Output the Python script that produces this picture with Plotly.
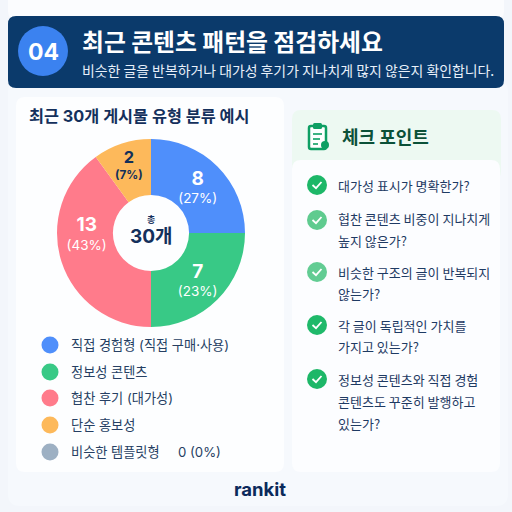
import plotly.graph_objects as go

categories = ["직접 경험형 (직접 구매·사용)", "정보성 콘텐츠", "협찬 후기 (대가성)", "단순 홍보성", "비슷한 템플릿형"]
counts = [8, 7, 13, 2, 0]
shares = [27, 23, 43, 7, 0]
# The reference's slices are not in proportion to its printed counts; these are the drawn angles.
drawn_degrees = [90, 90, 144, 36]
colors = ["#4F8FFB", "#38C986", "#FF7B8B", "#FDB95B", "#9DB0C3"]
label_colors = ["white", "white", "white", "#12305A", "#12305A"]
checks = [
    (["대가성 표시가 명확한가?"], "#1DB768"),
    (["협찬 콘텐츠 비중이 지나치게", "높지 않은가?"], "#5FCB8F"),
    (["비슷한 구조의 글이 반복되지", "않는가?"], "#62CC93"),
    (["각 글이 독립적인 가치를", "가지고 있는가?"], "#1FB96A"),
    (["정보성 콘텐츠와 직접 경험", "콘텐츠도 꾸준히 발행하고", "있는가?"], "#1DB768"),
]

S = 512.0
FONT = "Inter, 'Noto Sans CJK KR', sans-serif"
KR = "'Noto Sans CJK KR', sans-serif"

def X(p): return p / S
def Y(p): return 1 - p / S

def rrect(x0, y0, x1, y1, r, fill, line=None):
    a, b, c, d = X(x0), Y(y0), X(x1), Y(y1)
    rx, ry = r / S, r / S
    path = (f"M{a+rx},{b} L{c-rx},{b} Q{c},{b} {c},{b-ry} L{c},{d+ry} Q{c},{d} {c-rx},{d} "
            f"L{a+rx},{d} Q{a},{d} {a},{d+ry} L{a},{b-ry} Q{a},{b} {a+rx},{b} Z")
    return dict(type="path", xref="paper", yref="paper", path=path, fillcolor=fill,
                line=dict(color=line or fill, width=1 if line else 0), layer="below")

def circle(cx, cy, r, fill, layer="above"):
    return dict(type="circle", xref="paper", yref="paper", x0=X(cx - r), x1=X(cx + r),
                y0=Y(cy + r), y1=Y(cy - r), fillcolor=fill, line=dict(width=0), layer=layer)

def polyline(points, color, width):
    path = "M" + " L".join(f"{X(x)},{Y(y)}" for x, y in points)
    return dict(type="path", xref="paper", yref="paper", path=path,
                line=dict(color=color, width=width), layer="above")

def text(x, y, s, size, color, bold=False, anchor="left", family=FONT):
    return dict(xref="paper", yref="paper", x=X(x), y=Y(y), text=f"<b>{s}</b>" if bold else s,
                showarrow=False, xanchor=anchor, yanchor="middle",
                font=dict(size=size, color=color, family=family))

shapes, notes = [], []

# Background cards
shapes.append(rrect(8, -20, 504, 21, 10, "#FBFCFE"))
shapes.append(rrect(8, 80, 508, 506, 12, "#F6F9FD"))
shapes.append(rrect(8, 16, 504, 88, 8, "#0B3A6B"))
shapes.append(rrect(16, 97, 284, 472, 9, "#FDFEFF"))
shapes.append(rrect(292, 110, 501, 180, 9, "#EDF9F2"))
shapes.append(rrect(292, 160, 500, 472, 9, "#FCFDFF"))

# Header
shapes.append(circle(43, 51, 25, "#3B82F0"))
notes.append(text(43, 52, "04", 23, "white", True, "center"))
notes.append(text(79.5, 40, "최근 콘텐츠 패턴을 점검하세요", 23.8, "white", True, family=KR))
notes.append(text(80, 70, "비슷한 글을 반복하거나 대가성 후기가 지나치게 많지 않은지 확인합니다.", 13.9, "#E8F0FA", family=KR))

# Left card
notes.append(text(27, 116, "최근 30개 게시물 유형 분류 예시", 16.3, "#14305C", True))
notes.append(text(151, 219, "총", 9, "#14305C", True, "center"))
notes.append(text(151, 236, "30개", 19, "#14305C", True, "center"))

legend_y = [345, 372, 398, 425, 452]
for i, (name, c, y) in enumerate(zip(categories, colors, legend_y)):
    shapes.append(circle(50, y, 8.5, c))
    notes.append(text(69, y, name, 13.2, "#263F63"))
notes.append(text(176, legend_y[4], f"{counts[4]} ({shares[4]}%)", 13.2, "#263F63"))

# Right card header with clipboard icon
G = "#0E9F63"
shapes.append(rrect(309, 126, 326, 149, 2, "white", G))
shapes[-1]["layer"] = "above"
shapes[-1]["line"]["width"] = 2.5
shapes.append(rrect(313, 123, 322, 129, 1.5, G))
shapes[-1]["layer"] = "above"
for yy, x1 in ((134, 322), (139, 320), (144, 318)):
    shapes.append(polyline([(313, yy), (x1, yy)], G, 1.6))
shapes.append(circle(325, 145, 4, G))
notes.append(text(340, 136, "체크 포인트", 18, "#0B5138", True, family=KR))

# Checklist
row_y = [[185], [218, 240], [272, 293], [325, 346], [379, 401, 423]]
icon_y = [185, 220, 272, 325, 379]
for (lines, c), ys, iy in zip(checks, row_y, icon_y):
    shapes.append(circle(317, iy, 10, c))
    shapes.append(polyline([(312.5, iy), (316, iy + 3.2), (321.5, iy - 3)], "white", 1.8))
    for line, yy in zip(lines, ys):
        notes.append(text(336, yy, line, 13, "#1E3A63", family=KR))

notes.append(text(260, 489, "rankit", 18.5, "#0B2A5B", True, "center", family="Inter, sans-serif"))

pie_text = [f"<span style='font-size:19px'><b>{c}</b></span><br><span style='font-size:13.5px'>({p}%)</span>"
            if c != 2 else
            f"<span style='font-size:18px'><b>{c}</b></span><br><span style='font-size:13px'><b>({p}%)</b></span>"
            for c, p in zip(counts[:4], shares[:4])]

fig = go.Figure(go.Pie(
    labels=categories[:4], values=drawn_degrees, text=pie_text, textinfo="text",
    sort=False, direction="clockwise", rotation=0, hole=0.405,
    marker=dict(colors=colors[:4], line=dict(width=0)),
    textposition="inside", insidetextorientation="horizontal",
    textfont=dict(color=label_colors[:4], family=FONT, size=14),
    domain=dict(x=[X(57), X(245)], y=[Y(327), Y(139)]),
    showlegend=False, hoverinfo="skip",
))
fig.update_layout(
    width=512, height=512, margin=dict(l=0, r=0, t=0, b=0),
    paper_bgcolor="#F3F6FB", plot_bgcolor="rgba(0,0,0,0)",
    shapes=shapes, annotations=notes, showlegend=False,
    font=dict(family=FONT),
)
fig.write_html("out.html", post_script="document.body.style.margin='0';document.body.style.overflow='hidden';",
               config={"displayModeBar": False})
